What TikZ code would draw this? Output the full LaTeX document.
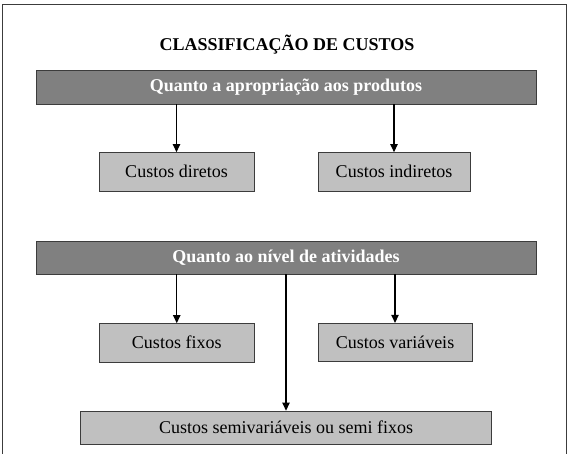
\documentclass[tikz,border=0pt]{standalone}
\usepackage{fontspec}
\setmainfont{Liberation Serif}
\usepackage{tikz}
\usetikzlibrary{shapes,arrows,arrows.meta,positioning,calc}
\definecolor{bardark}{RGB}{128, 128, 128}
\definecolor{boxlight}{RGB}{192, 192, 192}
\definecolor{edgegray}{RGB}{60, 60, 60}

\begin{document}
\begin{tikzpicture}[x=1pt, y=-1pt, >={Triangle[length=8pt, width=7.5pt]},
    barbox/.style={draw=edgegray, line width=0.8pt, fill=bardark, text=white, font=\fontsize{18}{21}\selectfont\bfseries, minimum width=500pt, inner sep=0pt},
    costbox/.style={draw=edgegray, line width=0.8pt, fill=boxlight, font=\fontsize{18}{21}\selectfont, minimum height=38.5pt, inner sep=0pt}]
    \useasboundingbox (0,0) rectangle (573,454);
    % Frame
    \draw[line width=0.8pt, color=edgegray] (2,470) -- (2,4.5) -- (566,4.5) -- (566,470);

    % Title
    \node[font=\fontsize{18}{21}\selectfont\bfseries] (title) at (287,45) {CLASSIFICAÇÃO DE CUSTOS};

    % Quanto a apropriacao
    \node[barbox, minimum height=34pt] (quantoprod) at (286,87) {Quanto a apropriação aos produtos};
    \node[costbox, minimum width=155pt] (cdiretos) at (176.5,171.75) {Custos diretos};
    \node[costbox, minimum width=152pt] (cindiretos) at (394,171.75) {Custos indiretos};
    \draw[->, line width=1.2pt] (quantoprod.south -| cdiretos.north) -- (cdiretos.north);
    \draw[->, line width=1.2pt] (quantoprod.south -| cindiretos.north) -- (cindiretos.north);

    % Quanto ao nivel
    \node[barbox, minimum height=33pt] (quantonivel) at (286,257.5) {Quanto ao nível de atividades};
    \node[costbox, minimum width=155.5pt] (cfixos) at (176.75,342.75) {Custos fixos};
    \node[costbox, minimum width=154pt] (cvariaveis) at (395,342.5) {Custos variáveis};
    \node[costbox, minimum width=410.6pt, minimum height=33pt] (csemi) at (286,427.5) {Custos semivariáveis ou semi fixos};
    \draw[->, line width=1.2pt] (quantonivel.south -| cfixos.north) -- (cfixos.north);
    \draw[->, line width=1.2pt] (quantonivel.south -| cvariaveis.north) -- (cvariaveis.north);
    \draw[->, line width=1.2pt] (quantonivel.south) -- (csemi.north);
\end{tikzpicture}
\end{document}
